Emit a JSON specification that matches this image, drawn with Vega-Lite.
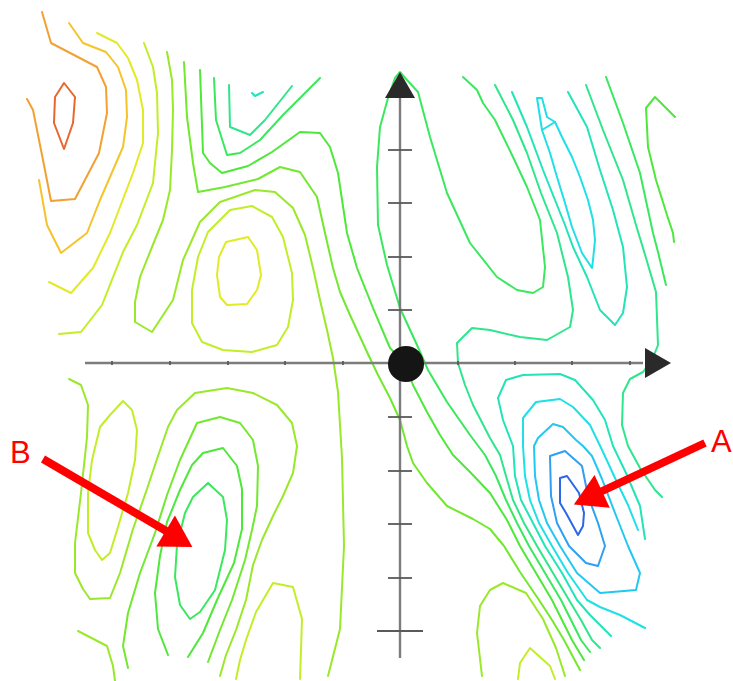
{
  "$schema": "https://vega.github.io/schema/vega-lite/v6.json",
  "width": 733,
  "height": 681,
  "autosize": {"type": "none"},
  "padding": 0,
  "background": "#ffffff",
  "config": {"view": {"stroke": null}},
  "datasets": {
    "contours": [
      {"id":"c1","level":14,"x":-336,"y":280},{"id":"c1","level":14,"x":-325,"y":266},{"id":"c1","level":14,"x":-327,"y":240},{"id":"c1","level":14,"x":-336,"y":214},{"id":"c1","level":14,"x":-346,"y":240},{"id":"c1","level":14,"x":-345,"y":266},{"id":"c1","level":14,"x":-336,"y":280},
      {"id":"c2","level":13,"x":-358,"y":351},{"id":"c2","level":13,"x":-349,"y":320},{"id":"c2","level":13,"x":-303,"y":296},{"id":"c2","level":13,"x":-294,"y":276},{"id":"c2","level":13,"x":-293,"y":250},{"id":"c2","level":13,"x":-301,"y":210},{"id":"c2","level":13,"x":-325,"y":164},{"id":"c2","level":13,"x":-349,"y":162},{"id":"c2","level":13,"x":-357,"y":203},{"id":"c2","level":13,"x":-367,"y":253},{"id":"c2","level":13,"x":-373,"y":264},
      {"id":"c3","level":12,"x":-331,"y":340},{"id":"c3","level":12,"x":-317,"y":320},{"id":"c3","level":12,"x":-294,"y":311},{"id":"c3","level":12,"x":-282,"y":296},{"id":"c3","level":12,"x":-274,"y":273},{"id":"c3","level":12,"x":-273,"y":246},{"id":"c3","level":12,"x":-277,"y":216},{"id":"c3","level":12,"x":-300,"y":163},{"id":"c3","level":12,"x":-313,"y":130},{"id":"c3","level":12,"x":-339,"y":110},{"id":"c3","level":12,"x":-353,"y":138},{"id":"c3","level":12,"x":-361,"y":183},
      {"id":"c4","level":11,"x":-303,"y":330},{"id":"c4","level":11,"x":-283,"y":320},{"id":"c4","level":11,"x":-272,"y":305},{"id":"c4","level":11,"x":-263,"y":283},{"id":"c4","level":11,"x":-257,"y":253},{"id":"c4","level":11,"x":-257,"y":220},{"id":"c4","level":11,"x":-267,"y":190},{"id":"c4","level":11,"x":-290,"y":130},{"id":"c4","level":11,"x":-307,"y":95},{"id":"c4","level":11,"x":-329,"y":70},{"id":"c4","level":11,"x":-351,"y":81},
      {"id":"c5","level":10,"x":-256,"y":320},{"id":"c5","level":10,"x":-247,"y":296},{"id":"c5","level":10,"x":-243,"y":270},{"id":"c5","level":10,"x":-242,"y":230},{"id":"c5","level":10,"x":-247,"y":180},{"id":"c5","level":10,"x":-263,"y":138},{"id":"c5","level":10,"x":-277,"y":111},{"id":"c5","level":10,"x":-298,"y":58},{"id":"c5","level":10,"x":-319,"y":31},{"id":"c5","level":10,"x":-341,"y":29},
      {"id":"c6","level":9,"x":-233,"y":311},{"id":"c6","level":9,"x":-228,"y":283},{"id":"c6","level":9,"x":-227,"y":253},{"id":"c6","level":9,"x":-228,"y":213},{"id":"c6","level":9,"x":-230,"y":173},{"id":"c6","level":9,"x":-237,"y":143},{"id":"c6","level":9,"x":-248,"y":116},{"id":"c6","level":9,"x":-260,"y":86},{"id":"c6","level":9,"x":-265,"y":61},{"id":"c6","level":9,"x":-265,"y":41},{"id":"c6","level":9,"x":-248,"y":31},{"id":"c6","level":9,"x":-227,"y":63},{"id":"c6","level":9,"x":-217,"y":103},{"id":"c6","level":9,"x":-200,"y":141},{"id":"c6","level":9,"x":-180,"y":161},{"id":"c6","level":9,"x":-145,"y":173},{"id":"c6","level":9,"x":-125,"y":171},{"id":"c6","level":9,"x":-107,"y":155},{"id":"c6","level":9,"x":-95,"y":128},{"id":"c6","level":9,"x":-87,"y":95},{"id":"c6","level":9,"x":-80,"y":63},{"id":"c6","level":9,"x":-73,"y":33},{"id":"c6","level":9,"x":-67,"y":5},{"id":"c6","level":9,"x":-62,"y":-29},{"id":"c6","level":9,"x":-58,"y":-95},{"id":"c6","level":9,"x":-56,"y":-183},{"id":"c6","level":9,"x":-60,"y":-266},{"id":"c6","level":9,"x":-72,"y":-313},
      {"id":"pk1","level":11,"x":-174,"y":121},{"id":"pk1","level":11,"x":-152,"y":126},{"id":"pk1","level":11,"x":-143,"y":113},{"id":"pk1","level":11,"x":-139,"y":88},{"id":"pk1","level":11,"x":-143,"y":73},{"id":"pk1","level":11,"x":-153,"y":59},{"id":"pk1","level":11,"x":-173,"y":58},{"id":"pk1","level":11,"x":-180,"y":66},{"id":"pk1","level":11,"x":-183,"y":88},{"id":"pk1","level":11,"x":-181,"y":106},{"id":"pk1","level":11,"x":-174,"y":121},
      {"id":"pk2","level":10,"x":-170,"y":153},{"id":"pk2","level":10,"x":-148,"y":157},{"id":"pk2","level":10,"x":-128,"y":146},{"id":"pk2","level":10,"x":-117,"y":126},{"id":"pk2","level":10,"x":-108,"y":90},{"id":"pk2","level":10,"x":-107,"y":63},{"id":"pk2","level":10,"x":-112,"y":36},{"id":"pk2","level":10,"x":-123,"y":18},{"id":"pk2","level":10,"x":-148,"y":11},{"id":"pk2","level":10,"x":-177,"y":13},{"id":"pk2","level":10,"x":-198,"y":21},{"id":"pk2","level":10,"x":-208,"y":40},{"id":"pk2","level":10,"x":-208,"y":73},{"id":"pk2","level":10,"x":-202,"y":106},{"id":"pk2","level":10,"x":-192,"y":131},{"id":"pk2","level":10,"x":-170,"y":153},
      {"id":"lb","level":8,"x":-216,"y":301},{"id":"lb","level":8,"x":-213,"y":246},{"id":"lb","level":8,"x":-207,"y":200},{"id":"lb","level":8,"x":-202,"y":171},{"id":"lb","level":8,"x":-175,"y":176},{"id":"lb","level":8,"x":-142,"y":184},{"id":"lb","level":8,"x":-120,"y":196},{"id":"lb","level":8,"x":-100,"y":191},{"id":"lb","level":8,"x":-83,"y":166},{"id":"lb","level":8,"x":-75,"y":130},{"id":"lb","level":8,"x":-67,"y":95},{"id":"lb","level":8,"x":-60,"y":71},{"id":"lb","level":8,"x":-50,"y":48},{"id":"lb","level":8,"x":-33,"y":11},{"id":"lb","level":8,"x":-22,"y":-12},{"id":"lb","level":8,"x":-10,"y":-35},{"id":"lb","level":8,"x":0,"y":-57},{"id":"lb","level":8,"x":7,"y":-83},{"id":"lb","level":8,"x":13,"y":-100},{"id":"lb","level":8,"x":27,"y":-120},{"id":"lb","level":8,"x":47,"y":-143},{"id":"lb","level":8,"x":73,"y":-156},{"id":"lb","level":8,"x":90,"y":-166},{"id":"lb","level":8,"x":104,"y":-183},{"id":"lb","level":8,"x":120,"y":-209},{"id":"lb","level":8,"x":139,"y":-237},{"id":"lb","level":8,"x":152,"y":-257},{"id":"lb","level":8,"x":164,"y":-277},{"id":"lb","level":8,"x":180,"y":-307},
      {"id":"la","level":7,"x":-200,"y":293},{"id":"la","level":7,"x":-197,"y":210},{"id":"la","level":7,"x":-190,"y":200},{"id":"la","level":7,"x":-178,"y":190},{"id":"la","level":7,"x":-152,"y":197},{"id":"la","level":7,"x":-128,"y":211},{"id":"la","level":7,"x":-100,"y":231},{"id":"la","level":7,"x":-80,"y":230},{"id":"la","level":7,"x":-70,"y":216},{"id":"la","level":7,"x":-62,"y":190},{"id":"la","level":7,"x":-53,"y":130},{"id":"la","level":7,"x":-43,"y":95},{"id":"la","level":7,"x":-27,"y":55},{"id":"la","level":7,"x":-10,"y":15},{"id":"la","level":7,"x":5,"y":0},{"id":"la","level":7,"x":13,"y":-22},{"id":"la","level":7,"x":27,"y":-49},{"id":"la","level":7,"x":40,"y":-72},{"id":"la","level":7,"x":53,"y":-92},{"id":"la","level":7,"x":70,"y":-109},{"id":"la","level":7,"x":90,"y":-130},{"id":"la","level":7,"x":107,"y":-157},{"id":"la","level":7,"x":120,"y":-183},{"id":"la","level":7,"x":136,"y":-210},{"id":"la","level":7,"x":152,"y":-237},{"id":"la","level":7,"x":162,"y":-257},{"id":"la","level":7,"x":172,"y":-277},{"id":"la","level":7,"x":184,"y":-297},
      {"id":"cv","level":6,"x":190,"y":-289},{"id":"cv","level":6,"x":181,"y":-277},{"id":"cv","level":6,"x":171,"y":-257},{"id":"cv","level":6,"x":161,"y":-237},{"id":"cv","level":6,"x":145,"y":-210},{"id":"cv","level":6,"x":129,"y":-183},{"id":"cv","level":6,"x":117,"y":-160},{"id":"cv","level":6,"x":106,"y":-137},{"id":"cv","level":6,"x":96,"y":-113},{"id":"cv","level":6,"x":85,"y":-92},{"id":"cv","level":6,"x":70,"y":-72},{"id":"cv","level":6,"x":47,"y":-39},{"id":"cv","level":6,"x":28,"y":-7},{"id":"cv","level":6,"x":17,"y":18},{"id":"cv","level":6,"x":0,"y":55},{"id":"cv","level":6,"x":-13,"y":98},{"id":"cv","level":6,"x":-22,"y":138},{"id":"cv","level":6,"x":-23,"y":196},{"id":"cv","level":6,"x":-20,"y":236},{"id":"cv","level":6,"x":-12,"y":265},{"id":"cv","level":6,"x":-5,"y":285},{"id":"cv","level":6,"x":0,"y":291},{"id":"cv","level":6,"x":7,"y":283},{"id":"cv","level":6,"x":18,"y":271},{"id":"cv","level":6,"x":30,"y":226},{"id":"cv","level":6,"x":47,"y":170},{"id":"cv","level":6,"x":70,"y":120},{"id":"cv","level":6,"x":97,"y":86},{"id":"cv","level":6,"x":117,"y":73},{"id":"cv","level":6,"x":133,"y":70},{"id":"cv","level":6,"x":143,"y":76},{"id":"cv","level":6,"x":145,"y":96},{"id":"cv","level":6,"x":140,"y":143},{"id":"cv","level":6,"x":127,"y":176},{"id":"cv","level":6,"x":113,"y":206},{"id":"cv","level":6,"x":95,"y":243},{"id":"cv","level":6,"x":83,"y":260},{"id":"cv","level":6,"x":77,"y":273},{"id":"cv","level":6,"x":63,"y":286},
      {"id":"zb","level":5,"x":95,"y":278},{"id":"zb","level":5,"x":113,"y":243},{"id":"zb","level":5,"x":127,"y":210},{"id":"zb","level":5,"x":141,"y":170},{"id":"zb","level":5,"x":157,"y":130},{"id":"zb","level":5,"x":168,"y":86},{"id":"zb","level":5,"x":173,"y":53},{"id":"zb","level":5,"x":170,"y":36},{"id":"zb","level":5,"x":147,"y":23},{"id":"zb","level":5,"x":120,"y":26},{"id":"zb","level":5,"x":90,"y":33},{"id":"zb","level":5,"x":72,"y":35},{"id":"zb","level":5,"x":57,"y":20},{"id":"zb","level":5,"x":58,"y":0},{"id":"zb","level":5,"x":65,"y":-22},{"id":"zb","level":5,"x":73,"y":-42},{"id":"zb","level":5,"x":90,"y":-75},{"id":"zb","level":5,"x":100,"y":-92},{"id":"zb","level":5,"x":106,"y":-113},{"id":"zb","level":5,"x":113,"y":-137},{"id":"zb","level":5,"x":124,"y":-160},{"id":"zb","level":5,"x":137,"y":-183},{"id":"zb","level":5,"x":153,"y":-210},{"id":"zb","level":5,"x":169,"y":-237},{"id":"zb","level":5,"x":181,"y":-257},{"id":"zb","level":5,"x":192,"y":-277},{"id":"zb","level":5,"x":200,"y":-285},
      {"id":"k1","level":4,"x":211,"y":-273},{"id":"k1","level":4,"x":203,"y":-265},{"id":"k1","level":4,"x":190,"y":-252},{"id":"k1","level":4,"x":177,"y":-237},{"id":"k1","level":4,"x":162,"y":-210},{"id":"k1","level":4,"x":145,"y":-183},{"id":"k1","level":4,"x":133,"y":-160},{"id":"k1","level":4,"x":121,"y":-137},{"id":"k1","level":4,"x":115,"y":-113},{"id":"k1","level":4,"x":113,"y":-83},{"id":"k1","level":4,"x":103,"y":-57},{"id":"k1","level":4,"x":98,"y":-35},{"id":"k1","level":4,"x":106,"y":-17},{"id":"k1","level":4,"x":123,"y":-12},{"id":"k1","level":4,"x":160,"y":-11},{"id":"k1","level":4,"x":175,"y":-17},{"id":"k1","level":4,"x":193,"y":-37},{"id":"k1","level":4,"x":205,"y":-57},{"id":"k1","level":4,"x":213,"y":-83},{"id":"k1","level":4,"x":226,"y":-110},{"id":"k1","level":4,"x":240,"y":-143},{"id":"k1","level":4,"x":245,"y":-176},
      {"id":"cy2","level":3,"x":245,"y":-265},{"id":"cy2","level":3,"x":220,"y":-252},{"id":"cy2","level":3,"x":200,"y":-244},{"id":"cy2","level":3,"x":187,"y":-237},{"id":"cy2","level":3,"x":168,"y":-210},{"id":"cy2","level":3,"x":152,"y":-183},{"id":"cy2","level":3,"x":139,"y":-160},{"id":"cy2","level":3,"x":130,"y":-137},{"id":"cy2","level":3,"x":125,"y":-113},{"id":"cy2","level":3,"x":123,"y":-83},{"id":"cy2","level":3,"x":123,"y":-55},{"id":"cy2","level":3,"x":136,"y":-39},{"id":"cy2","level":3,"x":160,"y":-36},{"id":"cy2","level":3,"x":173,"y":-44},{"id":"cy2","level":3,"x":190,"y":-62},{"id":"cy2","level":3,"x":203,"y":-89},{"id":"cy2","level":3,"x":215,"y":-115},{"id":"cy2","level":3,"x":228,"y":-142},{"id":"cy2","level":3,"x":238,"y":-167},
      {"id":"cy","level":2,"x":134,"y":-83},{"id":"cy","level":2,"x":135,"y":-113},{"id":"cy","level":2,"x":139,"y":-137},{"id":"cy","level":2,"x":147,"y":-160},{"id":"cy","level":2,"x":160,"y":-183},{"id":"cy","level":2,"x":177,"y":-210},{"id":"cy","level":2,"x":200,"y":-230},{"id":"cy","level":2,"x":236,"y":-227},{"id":"cy","level":2,"x":240,"y":-210},{"id":"cy","level":2,"x":228,"y":-183},{"id":"cy","level":2,"x":215,"y":-150},{"id":"cy","level":2,"x":202,"y":-116},{"id":"cy","level":2,"x":192,"y":-93},{"id":"cy","level":2,"x":183,"y":-83},{"id":"cy","level":2,"x":176,"y":-77},{"id":"cy","level":2,"x":163,"y":-64},{"id":"cy","level":2,"x":153,"y":-61},{"id":"cy","level":2,"x":138,"y":-75},{"id":"cy","level":2,"x":134,"y":-83},
      {"id":"lbl","level":1,"x":150,"y":-93},{"id":"lbl","level":1,"x":165,"y":-88},{"id":"lbl","level":1,"x":182,"y":-103},{"id":"lbl","level":1,"x":188,"y":-133},{"id":"lbl","level":1,"x":198,"y":-160},{"id":"lbl","level":1,"x":205,"y":-183},{"id":"lbl","level":1,"x":198,"y":-203},{"id":"lbl","level":1,"x":186,"y":-200},{"id":"lbl","level":1,"x":169,"y":-183},{"id":"lbl","level":1,"x":157,"y":-160},{"id":"lbl","level":1,"x":151,"y":-133},{"id":"lbl","level":1,"x":150,"y":-93},
      {"id":"bl","level":0,"x":160,"y":-115},{"id":"bl","level":0,"x":167,"y":-113},{"id":"bl","level":0,"x":179,"y":-130},{"id":"bl","level":0,"x":184,"y":-150},{"id":"bl","level":0,"x":183,"y":-163},{"id":"bl","level":0,"x":178,"y":-172},{"id":"bl","level":0,"x":166,"y":-150},{"id":"bl","level":0,"x":160,"y":-140},{"id":"bl","level":0,"x":160,"y":-115},
      {"id":"r1","level":5,"x":186,"y":278},{"id":"r1","level":5,"x":203,"y":233},{"id":"r1","level":5,"x":223,"y":183},{"id":"r1","level":5,"x":236,"y":138},{"id":"r1","level":5,"x":246,"y":105},{"id":"r1","level":5,"x":256,"y":71},{"id":"r1","level":5,"x":258,"y":18},{"id":"r1","level":5,"x":252,"y":3},{"id":"r1","level":5,"x":243,"y":-9},{"id":"r1","level":5,"x":230,"y":-16},{"id":"r1","level":5,"x":223,"y":-30},{"id":"r1","level":5,"x":222,"y":-62},{"id":"r1","level":5,"x":228,"y":-83},{"id":"r1","level":5,"x":240,"y":-105},{"id":"r1","level":5,"x":255,"y":-127},{"id":"r1","level":5,"x":262,"y":-134},
      {"id":"r2","level":6,"x":206,"y":286},{"id":"r2","level":6,"x":223,"y":240},{"id":"r2","level":6,"x":240,"y":190},{"id":"r2","level":6,"x":253,"y":130},{"id":"r2","level":6,"x":258,"y":111},{"id":"r2","level":6,"x":266,"y":78},
      {"id":"hk","level":7,"x":275,"y":246},{"id":"hk","level":7,"x":255,"y":266},{"id":"hk","level":7,"x":246,"y":255},{"id":"hk","level":7,"x":248,"y":216},{"id":"hk","level":7,"x":256,"y":183},{"id":"hk","level":7,"x":267,"y":148},{"id":"hk","level":7,"x":273,"y":130},{"id":"hk","level":7,"x":274,"y":121},
      {"id":"zc","level":4,"x":112,"y":271},{"id":"zc","level":4,"x":127,"y":236},{"id":"zc","level":4,"x":143,"y":193},{"id":"zc","level":4,"x":155,"y":163},{"id":"zc","level":4,"x":165,"y":138},{"id":"zc","level":4,"x":173,"y":116},{"id":"zc","level":4,"x":187,"y":86},{"id":"zc","level":4,"x":200,"y":53},{"id":"zc","level":4,"x":215,"y":38},{"id":"zc","level":4,"x":223,"y":50},{"id":"zc","level":4,"x":227,"y":76},{"id":"zc","level":4,"x":223,"y":116},{"id":"zc","level":4,"x":213,"y":153},{"id":"zc","level":4,"x":200,"y":193},{"id":"zc","level":4,"x":187,"y":236},{"id":"zc","level":4,"x":168,"y":271},
      {"id":"cyt","level":3,"x":137,"y":265},{"id":"cyt","level":3,"x":142,"y":265},{"id":"cyt","level":3,"x":147,"y":246},{"id":"cyt","level":3,"x":155,"y":241},{"id":"cyt","level":3,"x":162,"y":226},{"id":"cyt","level":3,"x":172,"y":206},{"id":"cyt","level":3,"x":180,"y":186},{"id":"cyt","level":3,"x":188,"y":163},{"id":"cyt","level":3,"x":193,"y":143},{"id":"cyt","level":3,"x":195,"y":123},{"id":"cyt","level":3,"x":193,"y":103},{"id":"cyt","level":3,"x":192,"y":95},{"id":"cyt","level":3,"x":182,"y":110},{"id":"cyt","level":3,"x":172,"y":136},{"id":"cyt","level":3,"x":165,"y":160},{"id":"cyt","level":3,"x":157,"y":186},{"id":"cyt","level":3,"x":150,"y":210},{"id":"cyt","level":3,"x":142,"y":233},{"id":"cyt","level":3,"x":137,"y":265},
      {"id":"cyx","level":3,"x":142,"y":233},{"id":"cyx","level":3,"x":155,"y":241},
      {"id":"u1","level":5,"x":-171,"y":278},{"id":"u1","level":5,"x":-170,"y":236},{"id":"u1","level":5,"x":-160,"y":232},{"id":"u1","level":5,"x":-150,"y":228},{"id":"u1","level":5,"x":-135,"y":243},{"id":"u1","level":5,"x":-108,"y":277},
      {"id":"u2","level":6,"x":-186,"y":285},{"id":"u2","level":6,"x":-184,"y":243},{"id":"u2","level":6,"x":-173,"y":208},{"id":"u2","level":6,"x":-160,"y":210},{"id":"u2","level":6,"x":-140,"y":223},{"id":"u2","level":6,"x":-117,"y":248},{"id":"u2","level":6,"x":-80,"y":285},
      {"id":"v","level":4,"x":-148,"y":270},{"id":"v","level":4,"x":-145,"y":267},{"id":"v","level":4,"x":-137,"y":271},
      {"id":"g","level":9,"x":-331,"y":-16},{"id":"g","level":9,"x":-319,"y":-22},{"id":"g","level":9,"x":-312,"y":-42},{"id":"g","level":9,"x":-313,"y":-74},{"id":"g","level":9,"x":-319,"y":-130},{"id":"g","level":9,"x":-325,"y":-180},{"id":"g","level":9,"x":-325,"y":-210},{"id":"g","level":9,"x":-317,"y":-226},{"id":"g","level":9,"x":-310,"y":-236},{"id":"g","level":9,"x":-290,"y":-235},{"id":"g","level":9,"x":-280,"y":-210},{"id":"g","level":9,"x":-267,"y":-166},{"id":"g","level":9,"x":-253,"y":-126},{"id":"g","level":9,"x":-243,"y":-96},{"id":"g","level":9,"x":-232,"y":-64},{"id":"g","level":9,"x":-223,"y":-47},{"id":"g","level":9,"x":-205,"y":-30},{"id":"g","level":9,"x":-173,"y":-25},{"id":"g","level":9,"x":-147,"y":-30},{"id":"g","level":9,"x":-123,"y":-42},{"id":"g","level":9,"x":-108,"y":-60},{"id":"g","level":9,"x":-103,"y":-83},{"id":"g","level":9,"x":-107,"y":-110},{"id":"g","level":9,"x":-117,"y":-133},{"id":"g","level":9,"x":-127,"y":-153},{"id":"g","level":9,"x":-138,"y":-177},{"id":"g","level":9,"x":-147,"y":-202},{"id":"g","level":9,"x":-154,"y":-237},{"id":"g","level":9,"x":-164,"y":-267},{"id":"g","level":9,"x":-174,"y":-292},{"id":"g","level":9,"x":-180,"y":-313},
      {"id":"be","level":10,"x":-277,"y":-38},{"id":"be","level":10,"x":-268,"y":-47},{"id":"be","level":10,"x":-263,"y":-67},{"id":"be","level":10,"x":-265,"y":-97},{"id":"be","level":10,"x":-272,"y":-130},{"id":"be","level":10,"x":-282,"y":-164},{"id":"be","level":10,"x":-290,"y":-190},{"id":"be","level":10,"x":-298,"y":-197},{"id":"be","level":10,"x":-305,"y":-187},{"id":"be","level":10,"x":-312,"y":-170},{"id":"be","level":10,"x":-312,"y":-130},{"id":"be","level":10,"x":-308,"y":-97},{"id":"be","level":10,"x":-300,"y":-64},{"id":"be","level":10,"x":-290,"y":-52},{"id":"be","level":10,"x":-277,"y":-38},
      {"id":"b3","level":8,"x":-272,"y":-305},{"id":"b3","level":8,"x":-277,"y":-283},{"id":"b3","level":8,"x":-272,"y":-250},{"id":"b3","level":8,"x":-260,"y":-210},{"id":"b3","level":8,"x":-245,"y":-170},{"id":"b3","level":8,"x":-233,"y":-132},{"id":"b3","level":8,"x":-220,"y":-97},{"id":"b3","level":8,"x":-203,"y":-60},{"id":"b3","level":8,"x":-180,"y":-54},{"id":"b3","level":8,"x":-160,"y":-60},{"id":"b3","level":8,"x":-147,"y":-77},{"id":"b3","level":8,"x":-142,"y":-103},{"id":"b3","level":8,"x":-143,"y":-143},{"id":"b3","level":8,"x":-148,"y":-167},{"id":"b3","level":8,"x":-155,"y":-197},{"id":"b3","level":8,"x":-168,"y":-237},{"id":"b3","level":8,"x":-180,"y":-267},{"id":"b3","level":8,"x":-192,"y":-299},
      {"id":"b2","level":7,"x":-232,"y":-292},{"id":"b2","level":7,"x":-242,"y":-266},{"id":"b2","level":7,"x":-245,"y":-230},{"id":"b2","level":7,"x":-240,"y":-193},{"id":"b2","level":7,"x":-233,"y":-159},{"id":"b2","level":7,"x":-220,"y":-127},{"id":"b2","level":7,"x":-208,"y":-102},{"id":"b2","level":7,"x":-197,"y":-90},{"id":"b2","level":7,"x":-177,"y":-85},{"id":"b2","level":7,"x":-163,"y":-103},{"id":"b2","level":7,"x":-158,"y":-126},{"id":"b2","level":7,"x":-158,"y":-166},{"id":"b2","level":7,"x":-166,"y":-200},{"id":"b2","level":7,"x":-183,"y":-237},{"id":"b2","level":7,"x":-197,"y":-270},{"id":"b2","level":7,"x":-212,"y":-294},
      {"id":"b1","level":6,"x":-192,"y":-120},{"id":"b1","level":6,"x":-177,"y":-134},{"id":"b1","level":6,"x":-173,"y":-157},{"id":"b1","level":6,"x":-175,"y":-187},{"id":"b1","level":6,"x":-185,"y":-227},{"id":"b1","level":6,"x":-200,"y":-249},{"id":"b1","level":6,"x":-210,"y":-256},{"id":"b1","level":6,"x":-220,"y":-242},{"id":"b1","level":6,"x":-225,"y":-214},{"id":"b1","level":6,"x":-223,"y":-182},{"id":"b1","level":6,"x":-215,"y":-150},{"id":"b1","level":6,"x":-207,"y":-134},{"id":"b1","level":6,"x":-192,"y":-120},
      {"id":"bll","level":9,"x":-322,"y":-268},{"id":"bll","level":9,"x":-293,"y":-283},{"id":"bll","level":9,"x":-287,"y":-303},{"id":"bll","level":9,"x":-285,"y":-318},
      {"id":"bu","level":10,"x":-164,"y":-316},{"id":"bu","level":10,"x":-160,"y":-297},{"id":"bu","level":10,"x":-154,"y":-277},{"id":"bu","level":10,"x":-144,"y":-249},{"id":"bu","level":10,"x":-127,"y":-220},{"id":"bu","level":10,"x":-107,"y":-224},{"id":"bu","level":10,"x":-98,"y":-256},{"id":"bu","level":10,"x":-100,"y":-316},
      {"id":"bru","level":9,"x":82,"y":-313},{"id":"bru","level":9,"x":77,"y":-270},{"id":"bru","level":9,"x":80,"y":-243},{"id":"bru","level":9,"x":90,"y":-227},{"id":"bru","level":9,"x":103,"y":-220},{"id":"bru","level":9,"x":126,"y":-230},{"id":"bru","level":9,"x":143,"y":-256},{"id":"bru","level":9,"x":156,"y":-285},{"id":"bru","level":9,"x":165,"y":-313},
      {"id":"bri","level":10,"x":118,"y":-316},{"id":"bri","level":10,"x":120,"y":-300},{"id":"bri","level":10,"x":130,"y":-285},{"id":"bri","level":10,"x":150,"y":-303},{"id":"bri","level":10,"x":155,"y":-316}
    ],
    "axes": [
      {"x":0,"y":265,"x2":0,"y2":-295},
      {"x":-315,"y":0,"x2":243,"y2":0}
    ],
    "ticks": [
      {"x":-12,"x2":12,"y":213,"y2":213},{"x":-12,"x2":12,"y":160,"y2":160},{"x":-12,"x2":12,"y":106,"y2":106},{"x":-12,"x2":12,"y":53,"y2":53},
      {"x":-12,"x2":12,"y":-54,"y2":-54},{"x":-12,"x2":12,"y":-108,"y2":-108},{"x":-12,"x2":12,"y":-161,"y2":-161},{"x":-12,"x2":12,"y":-215,"y2":-215},
      {"x":-23,"x2":23,"y":-268,"y2":-268},
      {"x":-288,"x2":-288,"y":-2,"y2":2},{"x":-230,"x2":-230,"y":-2,"y2":2},{"x":-172,"x2":-172,"y":-2,"y2":2},{"x":-115,"x2":-115,"y":-2,"y2":2},{"x":-57,"x2":-57,"y":-2,"y2":2},
      {"x":58,"x2":58,"y":-2,"y2":2},{"x":115,"x2":115,"y":-2,"y2":2},{"x":172,"x2":172,"y":-2,"y2":2},{"x":230,"x2":230,"y":-2,"y2":2}
    ],
    "arrows": [
      {"label":"A","x":305,"y":-80,"x2":198,"y2":-130},
      {"label":"B","x":-357,"y":-96,"x2":-232,"y2":-169}
    ],
    "labels": [
      {"label":"A","x":311,"y":-89},
      {"label":"B","x":-390,"y":-100}
    ]
  },
  "layer": [
    {
      "data": {"name": "contours"},
      "mark": {"type": "line", "strokeWidth": 2, "strokeJoin": "round", "strokeCap": "round"},
      "encoding": {
        "x": {"field": "x", "type": "quantitative", "scale": {"domain": [-400, 333], "nice": false, "zero": false}, "axis": null},
        "y": {"field": "y", "type": "quantitative", "scale": {"domain": [-318, 363], "nice": false, "zero": false}, "axis": null},
        "detail": {"field": "id"},
        "color": {
          "field": "level", "type": "ordinal", "legend": null,
          "scale": {
            "domain": [0,1,2,3,4,5,6,7,8,9,10,11,12,13,14],
            "range": ["#2b67e8","#2f9ff2","#22c8f2","#1fe0e6","#22e4b8","#2ee68c","#3ae85e","#4ee83a","#72e82e","#9ae82a","#c2ee28","#e2ea26","#f4c42a","#f3a033","#e8672e"]
          }
        },
        "order": {"value": null}
      }
    },
    {
      "data": {"name": "axes"},
      "mark": {"type": "rule", "color": "#7c7c7c", "strokeWidth": 2.4},
      "encoding": {
        "x": {"field": "x", "type": "quantitative", "scale": {"domain": [-400, 333], "nice": false, "zero": false}, "axis": null},
        "y": {"field": "y", "type": "quantitative", "scale": {"domain": [-318, 363], "nice": false, "zero": false}, "axis": null},
        "x2": {"field": "x2"},
        "y2": {"field": "y2"}
      }
    },
    {
      "data": {"name": "ticks"},
      "mark": {"type": "rule", "color": "#5a5a5a", "strokeWidth": 1.8},
      "encoding": {
        "x": {"field": "x", "type": "quantitative", "scale": {"domain": [-400, 333], "nice": false, "zero": false}, "axis": null},
        "y": {"field": "y", "type": "quantitative", "scale": {"domain": [-318, 363], "nice": false, "zero": false}, "axis": null},
        "x2": {"field": "x2"},
        "y2": {"field": "y2"}
      }
    },
    {
      "data": {"values": [{"x": 0, "y": 278}]},
      "mark": {"type": "point", "shape": "triangle-up", "size": 900, "filled": true, "color": "#2a2a2a", "opacity": 1},
      "encoding": {
        "x": {"field": "x", "type": "quantitative", "scale": {"domain": [-400, 333], "nice": false, "zero": false}, "axis": null},
        "y": {"field": "y", "type": "quantitative", "scale": {"domain": [-318, 363], "nice": false, "zero": false}, "axis": null}
      }
    },
    {
      "data": {"values": [{"x": 258, "y": 0}]},
      "mark": {"type": "point", "shape": "triangle-right", "size": 900, "filled": true, "color": "#2a2a2a", "opacity": 1},
      "encoding": {
        "x": {"field": "x", "type": "quantitative", "scale": {"domain": [-400, 333], "nice": false, "zero": false}, "axis": null},
        "y": {"field": "y", "type": "quantitative", "scale": {"domain": [-318, 363], "nice": false, "zero": false}, "axis": null}
      }
    },
    {
      "data": {"values": [{"x": 6, "y": -1}]},
      "mark": {"type": "point", "shape": "circle", "size": 1300, "filled": true, "color": "#151515", "opacity": 1},
      "encoding": {
        "x": {"field": "x", "type": "quantitative", "scale": {"domain": [-400, 333], "nice": false, "zero": false}, "axis": null},
        "y": {"field": "y", "type": "quantitative", "scale": {"domain": [-318, 363], "nice": false, "zero": false}, "axis": null}
      }
    },
    {
      "data": {"name": "arrows"},
      "mark": {"type": "rule", "color": "#ff0000", "strokeWidth": 8, "strokeCap": "butt"},
      "encoding": {
        "x": {"field": "x", "type": "quantitative", "scale": {"domain": [-400, 333], "nice": false, "zero": false}, "axis": null},
        "y": {"field": "y", "type": "quantitative", "scale": {"domain": [-318, 363], "nice": false, "zero": false}, "axis": null},
        "x2": {"field": "x2"},
        "y2": {"field": "y2"}
      }
    },
    {
      "data": {"values": [{"label": "A", "x": 188, "y": -135}]},
      "mark": {"type": "point", "shape": "triangle-right", "size": 1300, "angle": 155, "filled": true, "color": "#ff0000", "opacity": 1},
      "encoding": {
        "x": {"field": "x", "type": "quantitative", "scale": {"domain": [-400, 333], "nice": false, "zero": false}, "axis": null},
        "y": {"field": "y", "type": "quantitative", "scale": {"domain": [-318, 363], "nice": false, "zero": false}, "axis": null}
      }
    },
    {
      "data": {"values": [{"label": "B", "x": -221, "y": -176}]},
      "mark": {"type": "point", "shape": "triangle-right", "size": 1300, "angle": 31, "filled": true, "color": "#ff0000", "opacity": 1},
      "encoding": {
        "x": {"field": "x", "type": "quantitative", "scale": {"domain": [-400, 333], "nice": false, "zero": false}, "axis": null},
        "y": {"field": "y", "type": "quantitative", "scale": {"domain": [-318, 363], "nice": false, "zero": false}, "axis": null}
      }
    },
    {
      "data": {"name": "labels"},
      "mark": {"type": "text", "align": "left", "baseline": "alphabetic", "font": "Liberation Sans", "fontSize": 31, "color": "#ff0000"},
      "encoding": {
        "x": {"field": "x", "type": "quantitative", "scale": {"domain": [-400, 333], "nice": false, "zero": false}, "axis": null},
        "y": {"field": "y", "type": "quantitative", "scale": {"domain": [-318, 363], "nice": false, "zero": false}, "axis": null},
        "text": {"field": "label"}
      }
    }
  ]
}
